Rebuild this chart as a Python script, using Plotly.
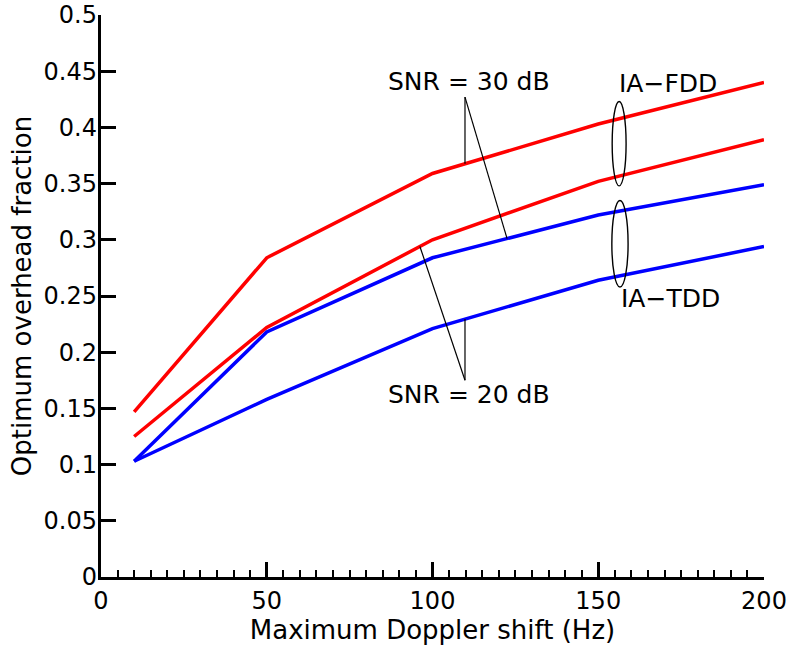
import numpy as np
import plotly.graph_objects as go

# ---- data ----
doppler = [10, 50, 100, 150, 200]
fdd_30 = [0.147, 0.284, 0.359, 0.403, 0.440]
fdd_20 = [0.125, 0.222, 0.300, 0.352, 0.389]
tdd_30 = [0.103, 0.218, 0.284, 0.322, 0.349]
tdd_20 = [0.103, 0.158, 0.221, 0.264, 0.294]

x_ticks = [0, 50, 100, 150, 200]
y_ticks = [0, 0.05, 0.1, 0.15, 0.2, 0.25, 0.3, 0.35, 0.4, 0.45, 0.5]
y_ticklabels = ["0", "0.05", "0.1", "0.15", "0.2", "0.25", "0.3", "0.35", "0.4", "0.45", "0.5"]

FONT = "DejaVu Sans"

fig = go.Figure()
for ys, col in [(fdd_30, "#ff0000"), (fdd_20, "#ff0000"), (tdd_30, "#0000ff"), (tdd_20, "#0000ff")]:
    fig.add_trace(go.Scatter(x=doppler, y=ys, mode="lines",
                             line=dict(color=col, width=3.5), showlegend=False,
                             hoverinfo="skip"))
# invisible trace carrying the label axis
fig.add_trace(go.Scatter(x=[doppler[0]], y=[fdd_30[0]], yaxis="y2", mode="lines",
                         line=dict(width=0), showlegend=False, hoverinfo="skip"))

# ---- annotation geometry (data coordinates) ----
snr30_apex = (109.8, 0.427)
snr30_targets_x = [109.8, 122.5]
snr30_targets_series = [fdd_30, tdd_30]
snr20_apex = (109.8, 0.175)
snr20_targets_x = [109.8, 96.2]
snr20_targets_series = [tdd_20, fdd_20]

shapes = []
for apex, txs, sers in [(snr30_apex, snr30_targets_x, snr30_targets_series),
                        (snr20_apex, snr20_targets_x, snr20_targets_series)]:
    for tx, s in zip(txs, sers):
        ty = float(np.interp(tx, doppler, s))
        shapes.append(dict(type="line", xref="x", yref="y", x0=apex[0], y0=apex[1],
                           x1=tx, y1=ty, line=dict(color="black", width=1.2)))

ellipses = [(154.2, 158.4, 0.348, 0.423), (154.1, 159.0, 0.258, 0.335)]
for x0, x1, y0, y1 in ellipses:
    shapes.append(dict(type="circle", xref="x", yref="y", x0=x0, x1=x1, y0=y0, y1=y1,
                       line=dict(color="black", width=1.4)))

labels = [("SNR = 30 dB", 86.0, 0.4404), ("SNR = 20 dB", 86.0, 0.162),
          ("IA\u2212FDD", 155.6, 0.4395), ("IA\u2212TDD", 156.3, 0.248)]
annotations = [dict(text=t, x=x, y=y, xref="x", yref="y", xanchor="left", yanchor="middle",
                    showarrow=False, font=dict(family=FONT, size=25, color="black"))
               for t, x, y in labels]

fig.update_layout(
    width=788, height=645,
    margin=dict(l=101, r=24, t=15, b=68, autoexpand=False),
    paper_bgcolor="white", plot_bgcolor="white",
    shapes=shapes, annotations=annotations,
    font=dict(family=FONT, color="black"),
)
fig.update_xaxes(
    range=[0, 200], tickvals=x_ticks, ticktext=[str(v) for v in x_ticks],
    ticks="inside", ticklen=15, tickwidth=2.5, tickcolor="black",
    minor=dict(dtick=5, ticks="inside", ticklen=7, tickwidth=2, tickcolor="black"),
    showline=True, linecolor="black", linewidth=3, mirror=False,
    showgrid=False, zeroline=False, automargin=False,
    tickfont=dict(family=FONT, size=24, color="black"),
    title=dict(text="Maximum Doppler shift (Hz)", font=dict(family=FONT, size=26, color="black"), standoff=2),
)
fig.update_layout(
    yaxis=dict(
        range=[0, 0.5], tickvals=y_ticks,
        ticks="inside", ticklen=15, tickwidth=2.5, tickcolor="black",
        showline=True, linecolor="black", linewidth=3, mirror=False,
        showgrid=False, zeroline=False, automargin=False, showticklabels=False,
    ),
    yaxis2=dict(
        overlaying="y", matches="y", anchor="free", position=0, side="left", shift=-4,
        range=[0, 0.5], tickvals=y_ticks, ticktext=y_ticklabels,
        ticks="", showline=False, showgrid=False, zeroline=False, automargin=False,
        tickfont=dict(family=FONT, size=24, color="black"),
        title=dict(text="Optimum overhead fraction", font=dict(family=FONT, size=26, color="black"), standoff=3),
    ),
)

fig.write_html("out.html")
